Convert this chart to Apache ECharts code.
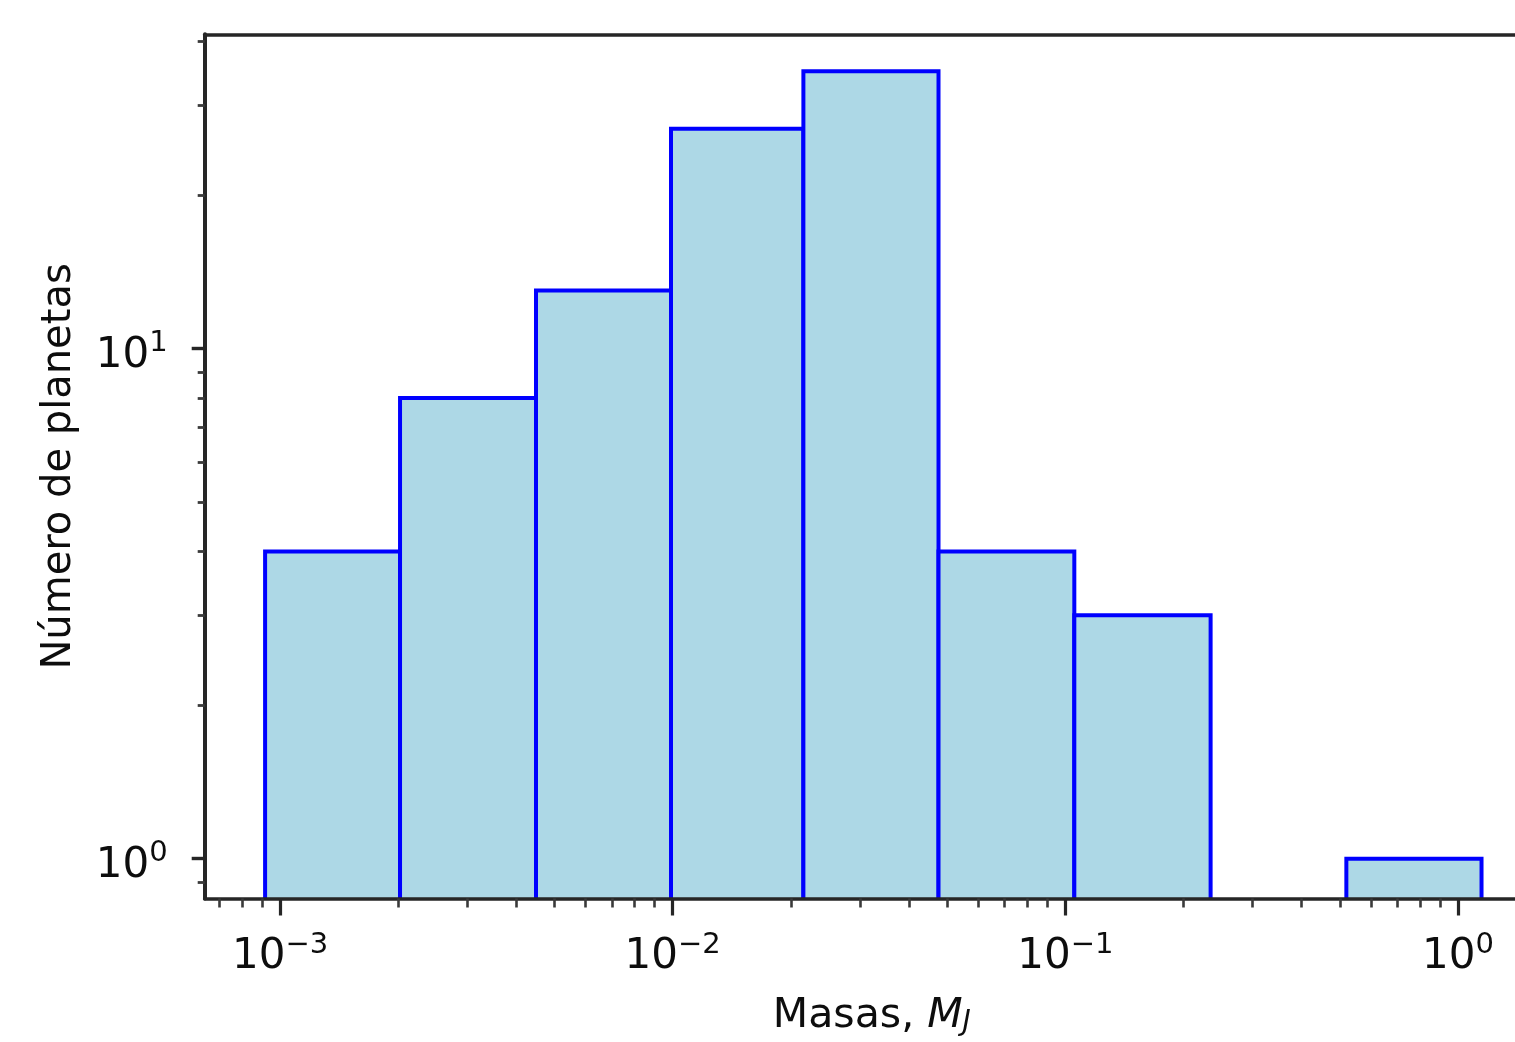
<!DOCTYPE html>
<html>
<head>
<meta charset="utf-8">
<script src="https://cdn.jsdelivr.net/npm/echarts@6/dist/echarts.min.js"></script>
<style>
html,body{margin:0;padding:0;background:#fff;}
#chart{width:1515px;height:1042px;}
</style>
</head>
<body>
<div id="chart"></div>
<script>
// Histogram bin edges (Jupiter masses) and planet counts per bin
const binEdges = [0.000916, 0.002021, 0.004486, 0.009901, 0.02152, 0.04753, 0.1054, 0.2344, 0.5196, 1.148];
const counts = [4, 8, 13, 27, 35, 4, 3, 0, 1];

// Axis limits and ticks
const xMin = 0.0006428, xMax = 1.397;
const yMin = 0.8353, yMax = 41.34;
const xMajorTicks = [0.001, 0.01, 0.1, 1];
const xMinorTicks = [0.0007, 0.0008, 0.0009,
  0.002, 0.003, 0.004, 0.005, 0.006, 0.007, 0.008, 0.009,
  0.02, 0.03, 0.04, 0.05, 0.06, 0.07, 0.08, 0.09,
  0.2, 0.3, 0.4, 0.5, 0.6, 0.7, 0.8, 0.9];
const yMajorTicks = [1, 10];
const yMinorTicks = [0.9, 2, 3, 4, 5, 6, 7, 8, 9, 20, 30, 40];

const xTitle = '{n|Masas, }{i|M}{j|J}';
const yTitle = 'Número de planetas';

const FONT = 'DejaVu Sans';
const LINE = '#262626';
const TEXT = '#0d0d0d';

const data = counts.map((c, i) => [binEdges[i], binEdges[i + 1], c]);

function powLabel(v) {
  const e = Math.round(Math.log10(v));
  const s = e < 0 ? '\u2212' + Math.abs(e) : String(e);
  return '{b|10}{s|' + s + '}';
}
const labelRich = {
  b: {fontFamily: FONT, fontSize: 42, lineHeight: 48, verticalAlign: 'bottom', color: TEXT},
  s: {fontFamily: FONT, fontSize: 29, lineHeight: 17, verticalAlign: 'top', color: TEXT}
};

const chart = echarts.init(document.getElementById('chart'), null, {renderer: 'canvas'});
chart.setOption({
  animation: false,
  backgroundColor: '#fff',
  grid: {left: 204.7, top: 34.3, right: 0, height: 865.9, containLabel: false},
  xAxis: [
    {
      type: 'log', logBase: 10, min: xMin, max: xMax, position: 'bottom', z: 10,
      axisLine: {show: true, onZero: false, lineStyle: {color: LINE, width: 3.6}},
      axisTick: {show: true, customValues: xMajorTicks, length: 17, lineStyle: {color: LINE, width: 3.2}},
      axisLabel: {show: true, customValues: xMajorTicks, margin: 32, formatter: powLabel, rich: labelRich},
      splitLine: {show: false}, minorTick: {show: false}, minorSplitLine: {show: false},
      name: xTitle, nameLocation: 'middle', nameGap: 98,
      nameTextStyle: {
        padding: [0, 0, 0, 24],
        rich: {
          n: {fontFamily: FONT, fontSize: 41, lineHeight: 40, color: TEXT},
          i: {fontFamily: FONT, fontSize: 41, lineHeight: 40, fontStyle: 'italic', color: TEXT},
          j: {fontFamily: FONT, fontSize: 28, lineHeight: 24, fontStyle: 'italic', verticalAlign: 'bottom', color: TEXT}
        }
      }
    },
    {
      type: 'log', logBase: 10, min: xMin, max: xMax, position: 'bottom', z: 10,
      axisLine: {show: false, onZero: false},
      axisTick: {show: true, customValues: xMinorTicks, length: 9, lineStyle: {color: '#3a3a3a', width: 2.6}},
      axisLabel: {show: false}, splitLine: {show: false}
    },
    {
      type: 'log', logBase: 10, min: xMin, max: xMax, position: 'top', z: 10,
      axisLine: {show: true, onZero: false, lineStyle: {color: LINE, width: 3.6}},
      axisTick: {show: false}, axisLabel: {show: false}, splitLine: {show: false}
    }
  ],
  yAxis: [
    {
      type: 'log', logBase: 10, min: yMin, max: yMax, position: 'left', z: 10,
      axisLine: {show: true, onZero: false, lineStyle: {color: LINE, width: 4}},
      axisTick: {show: true, customValues: yMajorTicks, length: 13, lineStyle: {color: LINE, width: 3.4}},
      axisLabel: {show: true, customValues: yMajorTicks, margin: 37, padding: [8, 0, 0, 0], formatter: powLabel, rich: labelRich},
      splitLine: {show: false},
      name: yTitle, nameLocation: 'middle', nameGap: 125, nameRotate: 90,
      nameTextStyle: {fontFamily: FONT, fontSize: 40, color: TEXT}
    },
    {
      type: 'log', logBase: 10, min: yMin, max: yMax, position: 'left', z: 10,
      axisLine: {show: false, onZero: false},
      axisTick: {show: true, customValues: yMinorTicks, length: 7, lineStyle: {color: '#3a3a3a', width: 2.8}},
      axisLabel: {show: false}, splitLine: {show: false}
    }
  ],
  series: [{
    type: 'custom',
    xAxisIndex: 0, yAxisIndex: 0,
    clip: true,
    encode: {x: [0, 1], y: 2},
    data: data,
    renderItem: function (params, api) {
      const x0 = api.value(0), x1 = api.value(1), c = api.value(2);
      if (!(c > 0)) return null;
      const pTop = api.coord([x0, c]);
      const pBot = api.coord([x1, yMin]);
      return {
        type: 'rect',
        shape: {x: pTop[0], y: pTop[1], width: pBot[0] - pTop[0], height: pBot[1] - pTop[1] + 12},
        style: {fill: '#add8e6', stroke: '#0000ff', lineWidth: 4}
      };
    }
  }]
});
</script>
</body>
</html>
